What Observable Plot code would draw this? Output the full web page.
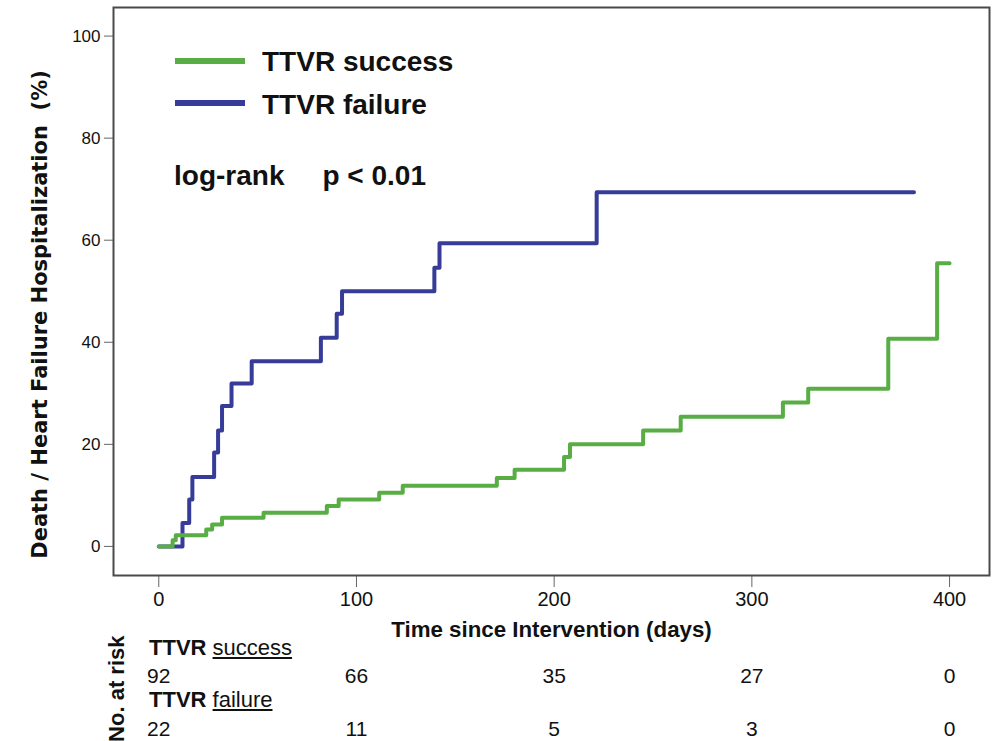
<!DOCTYPE html>
<html><head><meta charset="utf-8">
<script src="https://cdn.jsdelivr.net/npm/d3@7"></script>
<script src="https://cdn.jsdelivr.net/npm/@observablehq/plot@0.6"></script>
<style>
html,body{margin:0;padding:0;background:#fff;}
#wrap{position:relative;width:994px;height:741px;overflow:hidden;font-family:"Liberation Sans",Arial,sans-serif;color:#111;}
#wrap svg{position:absolute;left:0;top:0;}
.sw{position:absolute;height:6px;}
.abs{position:absolute;line-height:1;white-space:pre;}
</style></head><body>
<div id="wrap"></div>
<script>
// Kaplan-Meier cumulative event curves (% with Death / HF hospitalization)
const seriesNames = ["TTVR success", "TTVR failure"];
const seriesColors = ["#58ad45", "#363c98"];

const successTime  = [0, 7, 8.6, 24, 27, 32, 53, 85, 91, 111.5, 123.4, 171, 180, 205, 208, 245, 264, 315.7, 328.5, 369, 393.7, 400];
const successEvent = [0, 1.2, 2.2, 3.3, 4.3, 5.6, 6.6, 7.9, 9.2, 10.5, 11.9, 13.4, 15.0, 17.5, 20.0, 22.7, 25.4, 28.2, 30.9, 40.7, 55.5, 55.5];

const failureTime  = [0, 12, 15.4, 17, 28, 30, 32, 36.8, 47, 82, 90, 92.7, 139.4, 142, 221.5, 382];
const failureEvent = [0, 4.6, 9.2, 13.6, 18.4, 22.7, 27.5, 31.9, 36.3, 40.9, 45.6, 50.0, 54.6, 59.4, 69.4, 69.4];

// Number at risk table
const riskTimes   = [0, 100, 200, 300, 400];
const riskSuccess = [92, 66, 35, 27, 0];
const riskFailure = [22, 11, 5, 3, 0];

const xTicks = [0, 100, 200, 300, 400];
const yTicks = [0, 20, 40, 60, 80, 100];

const xLabel = "Time since Intervention (days)";
const yLabel = "Death / Heart Failure Hospitalization  (%)";
const riskLabel = "No. at risk";
const testLabel = ["log-rank", "p < 0.01"];

const successData = successTime.map((t, i) => ({t, v: successEvent[i]}));
const failureData = failureTime.map((t, i) => ({t, v: failureEvent[i]}));
const riskRows1 = riskTimes.map((t, i) => ({t, n: riskSuccess[i]}));
const riskRows2 = riskTimes.map((t, i) => ({t, n: riskFailure[i]}));

const FONT = "Liberation Sans, Arial, sans-serif";

const chart = Plot.plot({
  width: 994,
  height: 741,
  marginLeft: 113,
  marginRight: 5,
  marginTop: 7,
  marginBottom: 166,
  style: {fontFamily: FONT, fontSize: "16px", color: "#111", background: "transparent"},
  x: {domain: [-22.9, 420.2]},
  y: {domain: [-5.7, 105.6]},
  marks: [
    Plot.axisY({ticks: yTicks, tickSize: 9, tickPadding: 4, fontSize: 17, stroke: "#666", fill: "#111", label: null}),
    Plot.axisX({ticks: xTicks, tickSize: 12, tickPadding: 4, fontSize: 20, stroke: "#666", fill: "#111", label: null}),
    Plot.line(failureData, {x: "t", y: "v", curve: "step-after", stroke: seriesColors[1], strokeWidth: 4}),
    Plot.line(successData, {x: "t", y: "v", curve: "step-after", stroke: seriesColors[0], strokeWidth: 4}),
    Plot.frame({stroke: "#4a4a4a", strokeWidth: 2}),
    Plot.text([xLabel], {frameAnchor: "bottom", lineAnchor: "bottom", dy: 61, fontSize: 22.3, fontWeight: "bold", fill: "#111"}),
    Plot.text([yLabel], {frameAnchor: "left", textAnchor: "middle", rotate: -90, dx: -73, dy: 23, fontSize: 21, fontWeight: "bold", fontFamily: "DejaVu Sans", fill: "#111"}),
    Plot.text([riskLabel], {frameAnchor: "bottom-left", rotate: -90, textAnchor: "end", lineAnchor: "bottom", dx: 10, dy: 60, fontSize: 22, fontWeight: "bold", fill: "#111"}),
    Plot.text(riskRows1, {x: "t", text: "n", frameAnchor: "bottom", lineAnchor: "bottom", dy: 107, fontSize: 21, fill: "#111"}),
    Plot.text(riskRows2, {x: "t", text: "n", frameAnchor: "bottom", lineAnchor: "bottom", dy: 160, fontSize: 21, fill: "#111"})
  ]
});

const wrap = document.getElementById("wrap");
wrap.appendChild(chart);

function addDiv(cls, css, html) {
  const d = document.createElement("div");
  d.className = cls;
  d.style.cssText = css;
  if (html != null) d.innerHTML = html;
  wrap.appendChild(d);
  return d;
}
// legend
addDiv("sw", `left:175px;top:57.5px;width:70px;background:${seriesColors[0]}`);
addDiv("abs", "left:262px;top:48px;font-size:28px;font-weight:bold", seriesNames[0]);
addDiv("sw", `left:175px;top:100px;width:70px;background:${seriesColors[1]}`);
addDiv("abs", "left:262px;top:91px;font-size:28px;font-weight:bold", seriesNames[1]);
addDiv("abs", "left:174px;top:162px;font-size:28px;font-weight:bold", `${testLabel[0]}<span style="display:inline-block;width:38px"></span>${testLabel[1]}`);
// risk table row labels
const [s1a, s1b] = seriesNames[0].split(" ");
const [s2a, s2b] = seriesNames[1].split(" ");
addDiv("abs", "left:149px;top:637px;font-size:22px", `<b>${s1a}</b> <u>${s1b}</u>`);
addDiv("abs", "left:149px;top:689px;font-size:22px", `<b>${s2a}</b> <u>${s2b}</u>`);
</script>
</body></html>
